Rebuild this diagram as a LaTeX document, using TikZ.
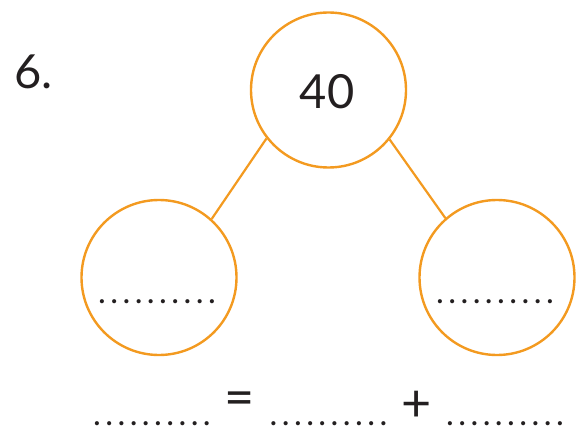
\documentclass[tikz,border=0pt]{standalone}
\usepackage{fontspec}
\setmainfont{Lato}
\definecolor{bondorange}{RGB}{243,154,32}
\definecolor{inkblack}{RGB}{35,31,32}
\newcommand{\dotrow}{\foreach \k in {1,...,10}{\makebox[12.2pt]{.}}}
\begin{document}
\begin{tikzpicture}[x=1pt,y=-1pt,
  bond/.style={circle,draw=bondorange,line width=2.4pt,minimum size=155pt,inner sep=0pt},
  link/.style={draw=bondorange,line width=2.2pt},
  big/.style={text=inkblack,font=\fontsize{47}{47}\selectfont,inner sep=0pt},
  sym/.style={text=inkblack,font=\fontsize{52}{52}\selectfont,inner sep=0pt},
  dotline/.style={text=inkblack,font=\fontsize{33}{33}\selectfont,inner sep=0pt,anchor=base}]
\useasboundingbox (0,0) rectangle (577,430);
\node[big,anchor=base west] (num) at (14,89) {6.};
\node[bond] (top) at (328.5,90) {};
\node[big] (forty) at (327,92) {40};
\node[bond] (left) at (159,277.5) {};
\node[bond] (right) at (497,277.5) {};
\draw[link] (top.218.5) -- (left.48.8);
\draw[link] (top.321.5) -- (right.131.2);
\node[dotline] (ldots) at (157,303) {\dotrow};
\node[dotline] (rdots) at (495,303) {\dotrow};
\node[dotline] (d1) at (152,425) {\dotrow};
\node[sym] (eq) at (240,404) {=};
\node[dotline] (d2) at (328.5,425) {\dotrow};
\node[sym] (plus) at (416.5,406) {+};
\node[dotline] (d3) at (505,425) {\dotrow};
\end{tikzpicture}
\end{document}
